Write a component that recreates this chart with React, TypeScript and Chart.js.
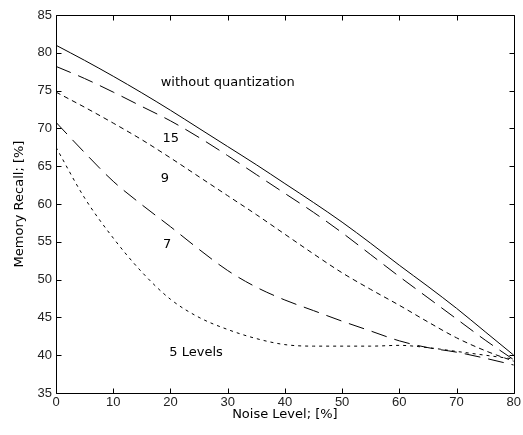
import React, { useEffect, useRef } from "react";
import { Chart, registerables } from "chart.js";

Chart.register(...registerables);

// Noise level (%)
const noise = [0, 5, 10, 15, 20, 25, 30, 35, 40, 45, 50, 55, 60, 65, 70, 75, 80];
// Memory recall (%) per quantization
const withoutQuantization = [81, 79, 76.9, 74.7, 72.4, 70, 67.6, 65.2, 62.7, 60.2, 57.6, 54.8, 51.9, 49.1, 46.2, 43.1, 40];
const levels15 = [78.2, 76.6, 74.8, 72.9, 71, 68.8, 66.4, 63.9, 61.4, 58.9, 56.2, 53.3, 50.4, 47.6, 44.8, 42, 39.4];
const levels9 = [74.8, 72.8, 70.7, 68.5, 66.1, 63.6, 61.1, 58.6, 56, 53.4, 50.9, 48.7, 46.6, 44.4, 42.3, 40.6, 39.2];
const levels7 = [70.8, 66.8, 63, 59.9, 57, 54, 51.2, 49, 47.3, 45.9, 44.5, 43.2, 41.9, 41, 40.4, 39.6, 38.7];
const levels5 = [67.5, 60.8, 55.5, 51, 47.4, 45, 43.4, 42.2, 41.4, 41.2, 41.2, 41.2, 41.3, 41, 40.5, 40, 39.5];

const xTickValues = [0, 10, 20, 30, 40, 50, 60, 70, 80];
const yTickValues = [35, 40, 45, 50, 55, 60, 65, 70, 75, 80, 85];

const curveLabels = [
  { text: "without quantization", x: 18.3, y: 76.1 },
  { text: "15", x: 18.6, y: 68.7 },
  { text: "9", x: 18.3, y: 63.4 },
  { text: "7", x: 18.7, y: 54.6 },
  { text: "5 Levels", x: 19.8, y: 40.4 },
];

const TICK_FAMILY = "'Liberation Sans Narrow', 'Arial Narrow', 'Liberation Sans', sans-serif";
const TEXT_FONT_FAMILY = "'DejaVu Sans', sans-serif";

const framePlugin = {
  id: "matlabFrame",
  afterDatasetsDraw(chart: any) {
    const { ctx, chartArea: a, scales } = chart;
    const xs = scales.x;
    const ys = scales.y;
    ctx.save();
    ctx.strokeStyle = "#000";
    ctx.lineWidth = 1;
    const L = Math.round(a.left) + 0.5;
    const R = Math.round(a.right) + 0.5;
    const T = Math.round(a.top) + 0.5;
    const B = Math.round(a.bottom) + 0.5;
    ctx.beginPath();
    ctx.rect(L, T, R - L, B - T);
    const tl = 5;
    xs.ticks.forEach((t: any) => {
      const px = Math.round(xs.getPixelForValue(t.value)) + 0.5;
      ctx.moveTo(px, B);
      ctx.lineTo(px, B - tl);
      ctx.moveTo(px, T);
      ctx.lineTo(px, T + tl);
    });
    ys.ticks.forEach((t: any) => {
      const py = Math.round(ys.getPixelForValue(t.value)) + 0.5;
      ctx.moveTo(L, py);
      ctx.lineTo(L + tl, py);
      ctx.moveTo(R, py);
      ctx.lineTo(R - tl, py);
    });
    ctx.stroke();

    ctx.fillStyle = "#000";
    ctx.font = "13px " + TEXT_FONT_FAMILY;
    ctx.textBaseline = "middle";
    ctx.textAlign = "left";
    curveLabels.forEach((l) => {
      ctx.fillText(l.text, xs.getPixelForValue(l.x), ys.getPixelForValue(l.y));
    });
    ctx.restore();
  },
};

export default function App() {
  const ref = useRef<HTMLCanvasElement | null>(null);

  useEffect(() => {
    if (!ref.current) return;
    const mk = (label: string, data: number[], dash: number[]) => ({
      label,
      data: noise.map((n, i) => ({ x: n, y: data[i] })),
      borderColor: "#000",
      borderWidth: 1,
      borderDash: dash,
      pointRadius: 0,
      fill: false,
      cubicInterpolationMode: "monotone" as const,
    });
    const chart = new Chart(ref.current, {
      type: "line",
      data: {
        datasets: [
          mk("without quantization", withoutQuantization, []),
          mk("15", levels15, [16, 8]),
          mk("9", levels9, [5, 4]),
          mk("7", levels7, [16, 8]),
          mk("5 Levels", levels5, [3, 4]),
        ],
      },
      options: {
        responsive: false,
        animation: false,
        layout: { padding: { top: 15, right: 8, left: 0, bottom: 0 } },
        plugins: { legend: { display: false }, tooltip: { enabled: false } },
        scales: {
          x: {
            type: "linear",
            min: 0,
            max: 80,
            afterBuildTicks: (s: any) => {
              s.ticks = xTickValues.map((v) => ({ value: v }));
            },
            afterFit: (s: any) => {
              s.height = 42;
            },
            grid: { display: false, drawTicks: false },
            border: { display: false },
            ticks: {
              padding: 2,
              color: "#222",
              font: { family: TICK_FAMILY, size: 13 },
              maxRotation: 0,
            },
            title: {
              display: true,
              text: "Noise Level; [%]",
              color: "#000",
              font: { family: TEXT_FONT_FAMILY, size: 13 },
              padding: { top: 0, bottom: 13 },
            },
          },
          y: {
            type: "linear",
            min: 35,
            max: 85,
            afterBuildTicks: (s: any) => {
              s.ticks = yTickValues.map((v) => ({ value: v }));
            },
            afterFit: (s: any) => {
              s.width = 56;
            },
            grid: { display: false, drawTicks: false },
            border: { display: false },
            ticks: {
              padding: 4,
              color: "#222",
              font: { family: TICK_FAMILY, size: 13 },
            },
            title: {
              display: true,
              text: "Memory Recall; [%]",
              color: "#000",
              font: { family: TEXT_FONT_FAMILY, size: 13 },
              padding: { top: 12, bottom: 0 },
            },
          },
        },
      },
      plugins: [framePlugin],
    });
    return () => chart.destroy();
  }, []);

  return (
    <div style={{ position: "fixed", left: 0, top: 0, width: 523, height: 435, background: "#fff" }}>
      <canvas ref={ref} width={523} height={435} />
    </div>
  );
}
